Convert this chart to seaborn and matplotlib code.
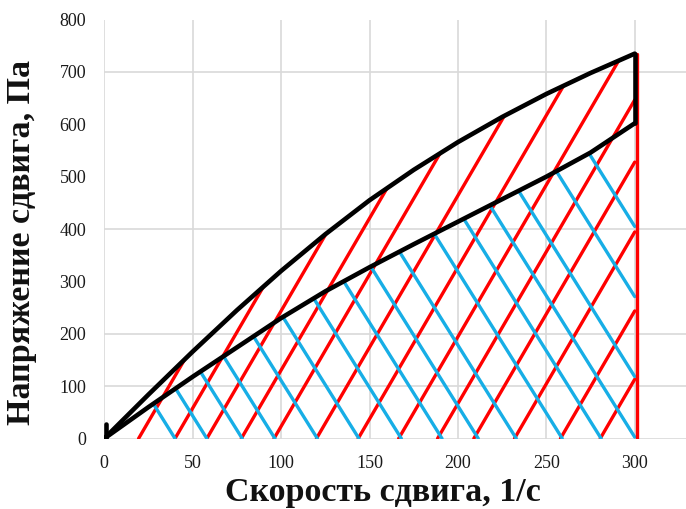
import numpy as np
import pandas as pd
import matplotlib
matplotlib.use("Agg")
import matplotlib.pyplot as plt
import seaborn as sns

# Flow curve (hysteresis loop): shear rate, 1/s
shear_rate = [0, 25, 50, 75, 100, 125, 150, 175, 200, 225, 250, 275, 300]
# upward branch (shear stress, Pa)
stress_up = [0, 84, 166, 245, 320, 390, 455, 513, 566, 614, 658, 698, 735]
# downward branch (shear stress, Pa)
stress_down = [0, 60, 118, 174, 230, 281, 327, 371, 414, 457, 500, 546, 602]
# short initial stroke at zero shear rate
start_stress = [0, 28]

# hatching under the upward branch: x-intercepts of the red strokes
red_offsets = [19.4, 40, 58, 77.5, 96, 120, 143.6, 166.5, 188.5, 209, 232, 258, 280.5]
red_slope = 5.8
# hatching under the downward branch: x-intercepts of the blue strokes
blue_offsets = [40, 58, 78, 96.5, 120.5, 144, 168, 191, 211.5, 233, 259, 281,
                300.5, 321.9, 350.2, 375]
blue_slope = -5.4

x_max = 300
x_ticks = [0, 50, 100, 150, 200, 250, 300]
y_ticks = [0, 100, 200, 300, 400, 500, 600, 700, 800]
y_grid = [0, 100, 200, 400, 700]

RED = "#FF0000"
BLUE = "#17AEE6"
GRID = "#D9D9D9"

sns.set_theme(style="white")
plt.rcParams["font.family"] = ["Liberation Serif", "DejaVu Serif"]

fig = plt.figure(figsize=(6.86, 5.09), dpi=100)
ax = fig.add_axes([104.3 / 686, 1 - 438.5 / 509, (686 - 104.3) / 686, (438.5 - 19.6) / 509])
ax.set_xlim(0, 329)
ax.set_ylim(0, 800)
ax.grid(False)

for v in x_ticks:
    ax.axvline(v, color=GRID, lw=1.2, zorder=0)
for v in y_grid:
    ax.axhline(v, color=GRID, lw=1.2, zorder=0)

xs_dense = np.linspace(0, x_max, 3001)
up_dense = np.interp(xs_dense, shear_rate, stress_up)
down_dense = np.interp(xs_dense, shear_rate, stress_down)

# red strokes: from the x axis up to the upward branch (or x = 300)
rows = []
for i, x0 in enumerate(red_offsets):
    m = xs_dense >= x0
    xs = xs_dense[m]
    yl = red_slope * (xs - x0)
    inside = yl <= up_dense[m]
    xe = xs[inside][-1] if inside.any() else x0
    rows.append({"seg": f"r{i}", "x": x0, "y": 0.0})
    rows.append({"seg": f"r{i}", "x": xe, "y": red_slope * (xe - x0)})
red_df = pd.DataFrame(rows)

# blue strokes: from the downward branch down to the x axis (or x = 300)
rows = []
for i, xb in enumerate(blue_offsets):
    yl = blue_slope * (xs_dense - xb)
    inside = (yl <= down_dense) & (yl >= 0)
    if not inside.any():
        continue
    xa = xs_dense[inside][0]
    xe = min(xb, x_max)
    rows.append({"seg": f"b{i}", "x": xa, "y": blue_slope * (xa - xb)})
    rows.append({"seg": f"b{i}", "x": xe, "y": blue_slope * (xe - xb)})
blue_df = pd.DataFrame(rows)

sns.lineplot(data=red_df, x="x", y="y", units="seg", estimator=None, sort=False,
             color=RED, lw=2.4, ax=ax, zorder=2, solid_capstyle="round")
sns.lineplot(data=blue_df, x="x", y="y", units="seg", estimator=None, sort=False,
             color=BLUE, lw=2.4, ax=ax, zorder=3, solid_capstyle="round")

# right edge of the hatched area
ax.plot([x_max + 1.2, x_max + 1.2], [0, stress_up[-1]], color=RED, lw=2.4, zorder=3)

loop = pd.DataFrame({"x": shear_rate, "up": stress_up, "down": stress_down})
sns.lineplot(data=loop, x="x", y="up", color="black", lw=3.3, ax=ax, zorder=4,
             solid_capstyle="round")
sns.lineplot(data=loop, x="x", y="down", color="black", lw=3.3, ax=ax, zorder=4,
             solid_capstyle="round")
ax.plot([x_max, x_max], [stress_down[-1], stress_up[-1]], color="black", lw=3.3,
        zorder=4, solid_capstyle="round")
ax.plot([0.8, 0.8], start_stress, color="black", lw=3.3, zorder=4, solid_capstyle="round")

ax.set_xticks(x_ticks)
ax.set_yticks(y_ticks)
ax.set_xticklabels([str(v) for v in x_ticks])
ax.set_yticklabels([str(v) for v in y_ticks])
ax.tick_params(axis="both", length=0, labelsize=13, colors="#1a1a1a")
ax.tick_params(axis="x", pad=12)
ax.tick_params(axis="y", pad=13)
for s in ax.spines.values():
    s.set_visible(False)
ax.set_xlabel("")
ax.set_ylabel("")

fig.text(383 / 686, 1 - 492 / 509, "Скорость сдвига, 1/с", ha="center", va="center",
         fontsize=24.5, fontweight="bold", color="#111111")
fig.text(22 / 686, 1 - 242 / 509, "Напряжение сдвига, Па", ha="center", va="center",
         rotation=90, fontsize=24.5, fontweight="bold", color="#111111")

fig.savefig("out.png", dpi=100)
